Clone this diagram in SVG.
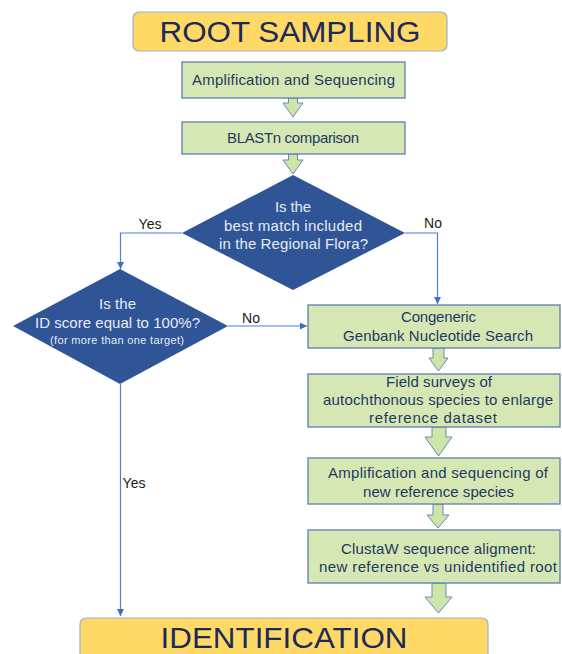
<svg xmlns="http://www.w3.org/2000/svg" width="562" height="654" viewBox="0 0 562 654">
<defs>
<style>
.title{fill:#FFD966;stroke:#9DAFD0;stroke-width:1.2}
.ttxt{font-family:"Liberation Sans",Arial,sans-serif;font-size:29px;fill:#1C2A5A;text-anchor:middle}
.box{fill:#D5E8B3;stroke:#5F7DB3;stroke-width:1.3}
.btxt{font-family:"Liberation Sans",Arial,sans-serif;font-size:15px;fill:#1F3864;text-anchor:middle}
.dia{fill:#2F5597}
.dtxt{font-family:"Liberation Sans",Arial,sans-serif;font-size:15px;fill:#E6EBF5;text-anchor:middle}
.small{font-size:11px}
.lbl{font-family:"Liberation Sans",Arial,sans-serif;font-size:14px;fill:#1A1A1A;text-anchor:middle}
.conn{fill:none;stroke:#4F7FD0;stroke-width:1.2}
.blk{fill:#CDE6A8;stroke:#6D86B8;stroke-width:1}
</style>
<marker id="ah" viewBox="0 0 10 10" refX="10" refY="5" markerWidth="7" markerHeight="7" markerUnits="userSpaceOnUse" orient="auto">
<path d="M0,0 L10,5 L0,10 z" fill="#3F6FC4"/>
</marker>
</defs>
<rect width="562" height="654" fill="#FFFFFF"/>

<g id="connectors">
<polyline class="conn" points="182,233 120.5,233 120.5,269" marker-end="url(#ah)"/>
<polyline class="conn" points="405,233 437.5,233 437.5,304" marker-end="url(#ah)"/>
<polyline class="conn" points="228,326 307,326" marker-end="url(#ah)"/>
<polyline class="conn" points="120.5,384 120.5,616" marker-end="url(#ah)"/>
<text class="lbl" x="150" y="229">Yes</text>
<text class="lbl" x="433" y="228">No</text>
<text class="lbl" x="251" y="323">No</text>
<text class="lbl" x="134" y="488">Yes</text>
<polygon class="blk" points="288.5,98 297.5,98 297.5,103 303,103 293,117 283,103 288.5,103"/>
<polygon class="blk" points="288.5,154 297.5,154 297.5,160 303,160 293,174 283,160 288.5,160"/>
<polygon class="blk" points="433,348 444,348 444,358 448,358 438.5,371 429,358 433,358"/>
<polygon class="blk" points="432,427 446,427 446,437 452,437 438.5,456 425,437 432,437"/>
<polygon class="blk" points="433,504 443,504 443,515 449,515 438,528 427,515 433,515"/>
<polygon class="blk" points="432,583 446,583 446,597 452,597 438.5,613 425,597 432,597"/>
</g>

<g id="root-sampling">
<rect class="title" x="133" y="12" width="314" height="39" rx="6"/>
<text class="ttxt" x="290" y="42" textLength="261" lengthAdjust="spacingAndGlyphs">ROOT SAMPLING</text>
</g>

<g id="amp-seq">
<rect class="box" x="182" y="62" width="223" height="36"/>
<text class="btxt" x="293.5" y="85" textLength="203">Amplification and Sequencing</text>
</g>

<g id="blastn">
<rect class="box" x="182" y="122" width="223" height="32"/>
<text class="btxt" x="293" y="143" textLength="132">BLASTn comparison</text>
</g>

<g id="decision-flora">
<polygon class="dia" points="293,175 405,233 293,290 182,233"/>
<text class="dtxt" x="293" y="212" textLength="36">Is the</text>
<text class="dtxt" x="293" y="231" textLength="138">best match included</text>
<text class="dtxt" x="293.5" y="249" textLength="149">in the Regional Flora?</text>
</g>

<g id="decision-score">
<polygon class="dia" points="120,269 228,326 120,384 13,326"/>
<text class="dtxt" x="117.5" y="309" textLength="37">Is the</text>
<text class="dtxt" x="117.5" y="328" textLength="165">ID score equal to 100%?</text>
<text class="dtxt small" x="117" y="344" textLength="134">(for more than one target)</text>
</g>

<g id="congeneric">
<rect class="box" x="308" y="305" width="252" height="43"/>
<text class="btxt" x="438.5" y="322" textLength="75">Congeneric</text>
<text class="btxt" x="438" y="341" textLength="190">Genbank Nucleotide Search</text>
</g>

<g id="field-surveys">
<rect class="box" x="308" y="374" width="252" height="53"/>
<text class="btxt" x="439" y="387" textLength="106">Field surveys of</text>
<text class="btxt" x="438" y="405" textLength="230">autochthonous species to enlarge</text>
<text class="btxt" x="433" y="423" textLength="128">reference dataset</text>
</g>

<g id="amp-new">
<rect class="box" x="308" y="458" width="252" height="46"/>
<text class="btxt" x="438" y="478" textLength="220">Amplification and sequencing of</text>
<text class="btxt" x="438.5" y="497" textLength="151">new reference species</text>
</g>

<g id="clustaw">
<rect class="box" x="308" y="530" width="252" height="53"/>
<text class="btxt" x="438.5" y="554" textLength="195">ClustaW sequence aligment:</text>
<text class="btxt" x="438" y="572" textLength="238">new reference vs unidentified root</text>
</g>

<g id="identification">
<rect class="title" x="80" y="618" width="408" height="50" rx="6"/>
<text class="ttxt" x="284" y="648" textLength="247" lengthAdjust="spacingAndGlyphs">IDENTIFICATION</text>
</g>
</svg>
